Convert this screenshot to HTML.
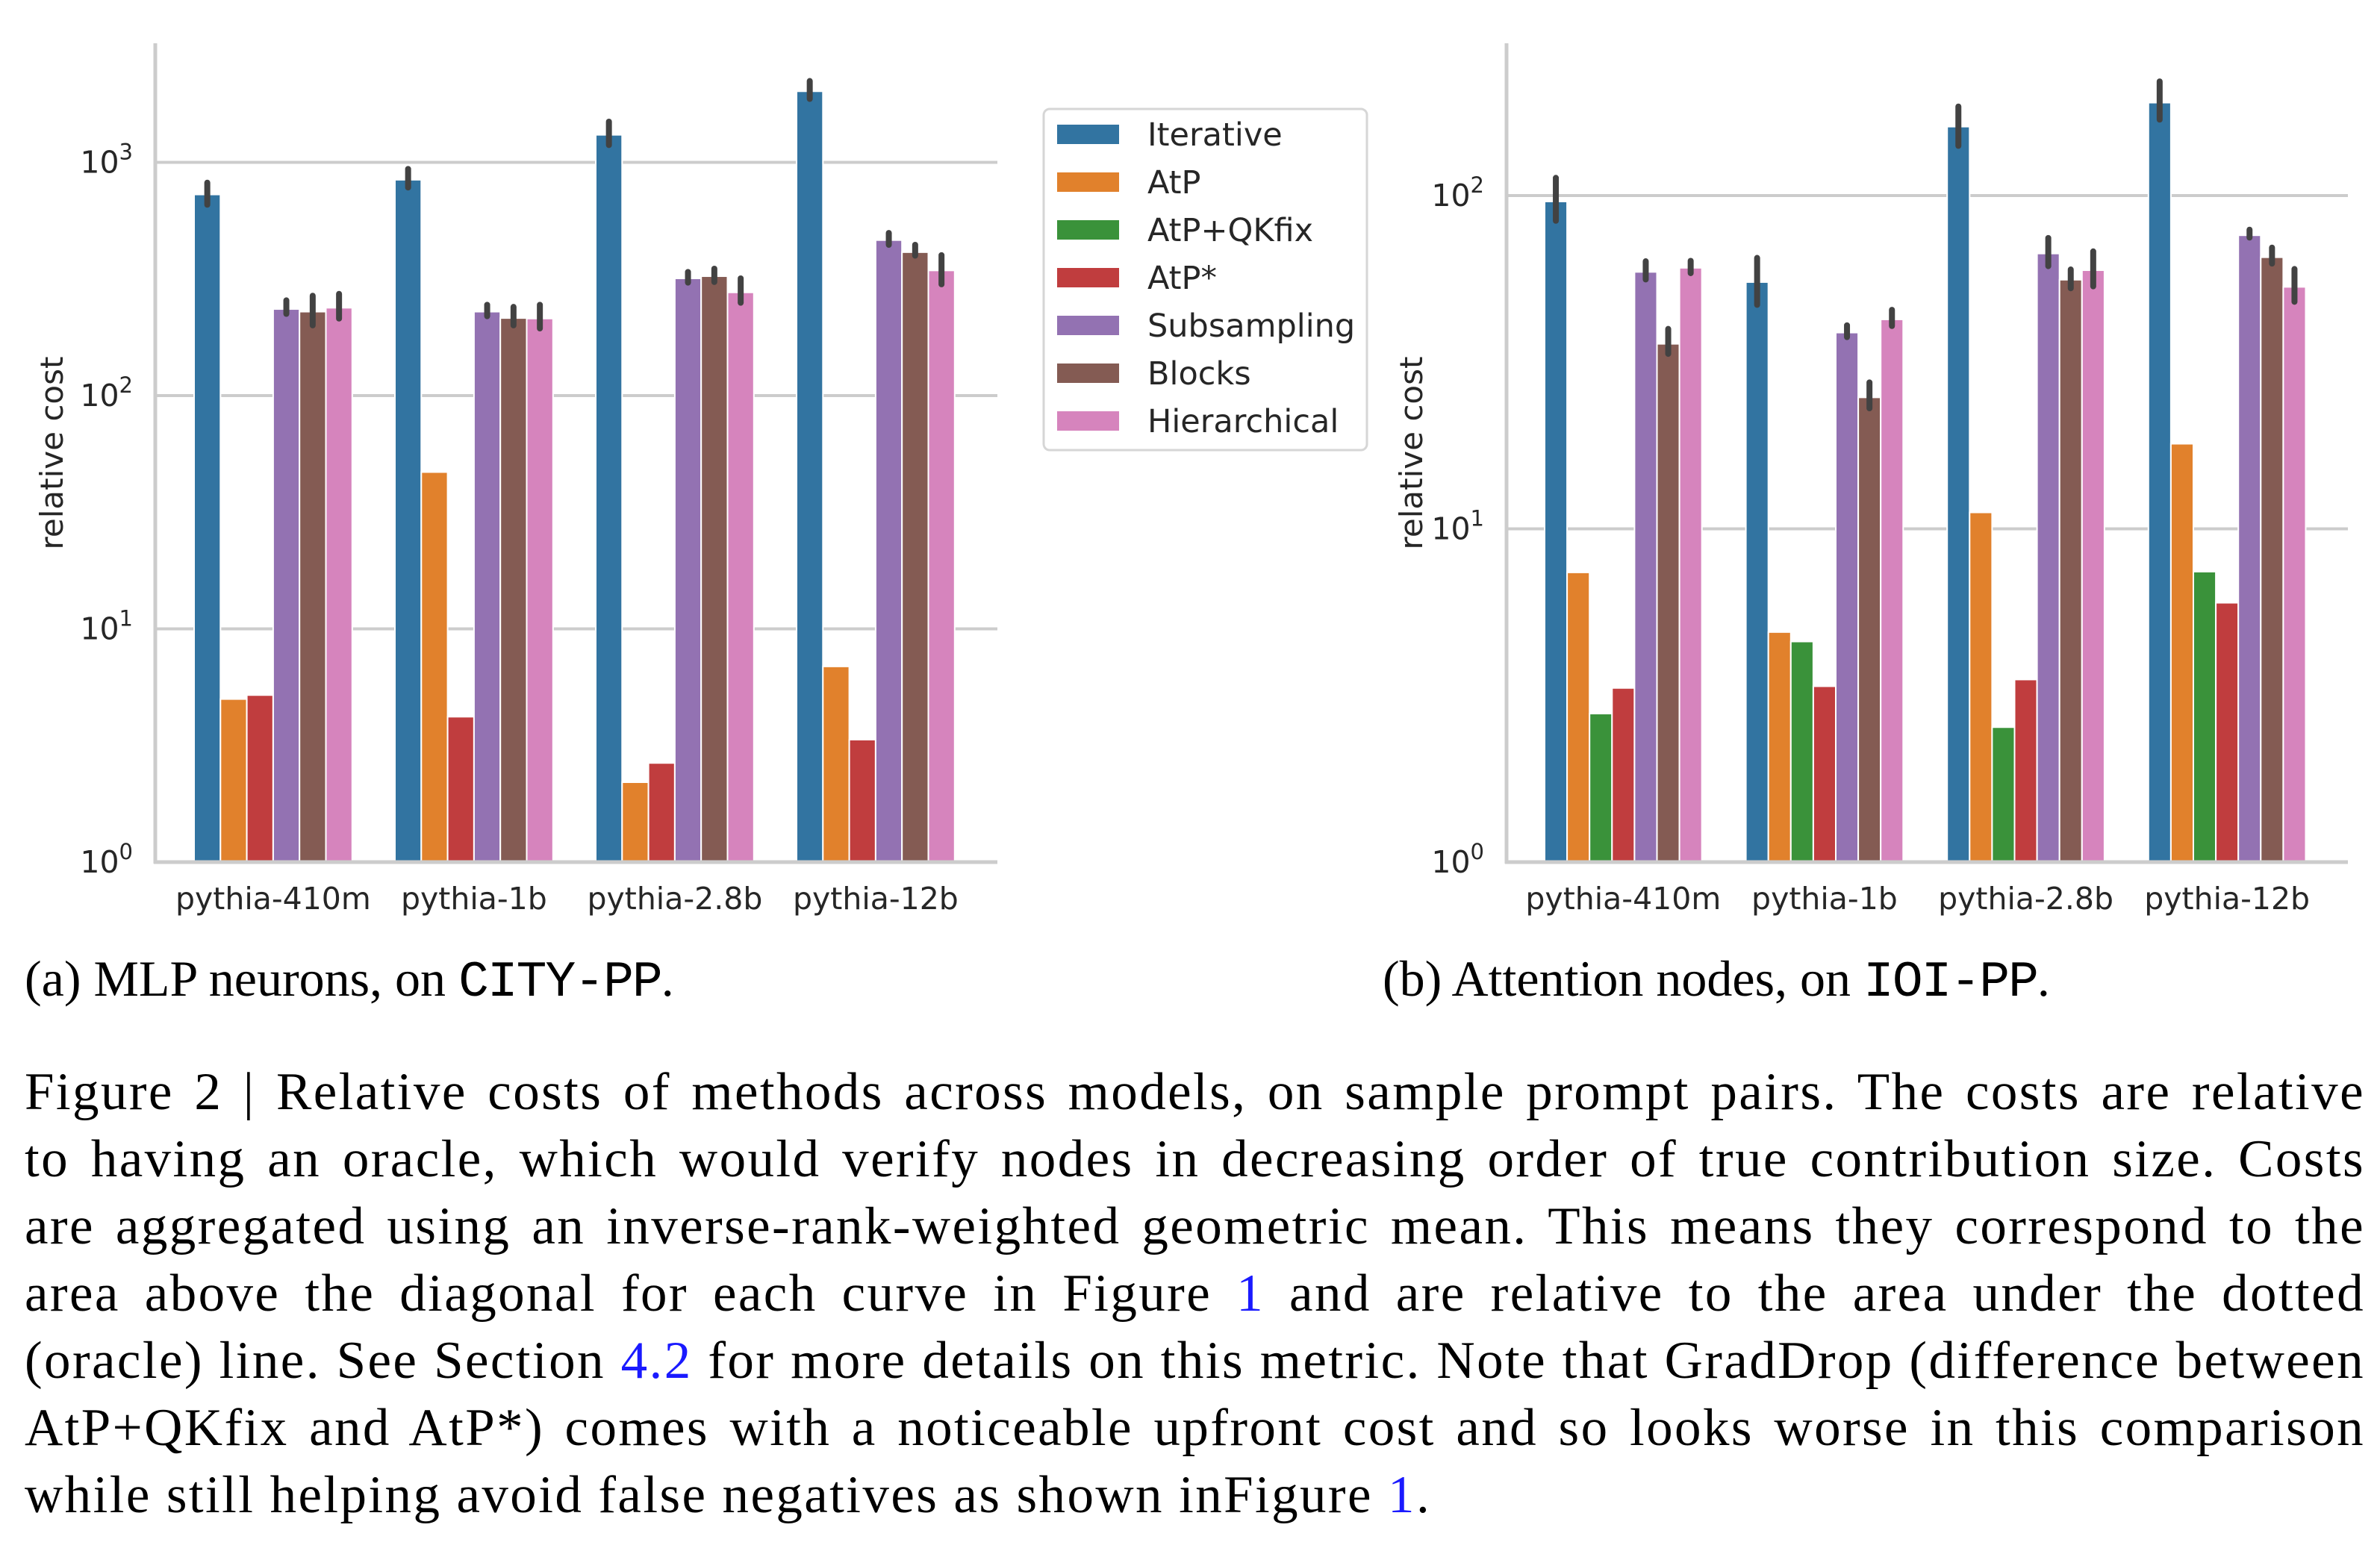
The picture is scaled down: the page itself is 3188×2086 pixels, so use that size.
<!DOCTYPE html>
<html><head><meta charset="utf-8">
<style>
html,body{margin:0;padding:0;background:#fff;}
#root{position:relative;width:3188px;height:2086px;overflow:hidden;background:#fff;}
svg text{font-family:"DejaVu Sans","Liberation Sans",sans-serif;fill:#262626;}
.cap{position:absolute;font-family:"Liberation Serif",serif;color:#000;white-space:nowrap;}
.line{position:absolute;left:33px;width:3135px;font-family:"Liberation Serif",serif;font-size:71px;color:#000;text-align:justify;text-align-last:justify;white-space:nowrap;line-height:90px;height:90px;letter-spacing:2.4px;}
.line.last{text-align-last:left;}
.mono{font-family:"Liberation Mono",monospace;letter-spacing:-2px;}
.lk{color:#1a1aff;}
</style></head><body>
<div id="root">
<svg id="chart" width="3188" height="1260" style="position:absolute;left:0;top:0"></svg>
<div class="cap" style="left:33px;top:1272px;font-size:68px;">(a) MLP neurons, on <span class="mono">CITY-PP</span>.</div>
<div class="cap" style="left:1852px;top:1272px;font-size:68px;">(b) Attention nodes, on <span class="mono">IOI-PP</span>.</div>
<div>
<div class="line" style="top:1418px">Figure 2 | Relative costs of methods across models, on sample prompt pairs. The costs are relative</div>
<div class="line" style="top:1508px">to having an oracle, which would verify nodes in decreasing order of true contribution size. Costs</div>
<div class="line" style="top:1598px">are aggregated using an inverse-rank-weighted geometric mean. This means they correspond to the</div>
<div class="line" style="top:1688px">area above the diagonal for each curve in Figure <span class="lk">1</span> and are relative to the area under the dotted</div>
<div class="line" style="top:1778px">(oracle) line. See Section <span class="lk">4.2</span> for more details on this metric. Note that GradDrop (difference between</div>
<div class="line" style="top:1868px">AtP+QKfix and AtP*) comes with a noticeable upfront cost and so looks worse in this comparison</div>
<div class="line last" style="top:1958px">while still helping avoid false negatives as shown inFigure <span class="lk">1</span>.</div>
</div>
</div>
<script>
const categories = ["pythia-410m","pythia-1b","pythia-2.8b","pythia-12b"];
const methods = ["Iterative","AtP","AtP+QKfix","AtP*","Subsampling","Blocks","Hierarchical"];
const colors = ["#3274a1","#e1812c","#3a923a","#c03d3e","#9372b2","#845b53","#d684bd"];
// Left chart (MLP neurons) - no AtP+QKfix
const mlpIterative = [728, 842, 1312, 2017];
const mlpAtP = [5.0, 47, 2.2, 6.9];
const mlpAtPStar = [5.2, 4.2, 2.66, 3.35];
const mlpSubsampling = [235, 229, 318, 464];
const mlpBlocks = [229, 215, 325, 412];
const mlpHierarchical = [238, 214, 277, 344];
const mlpIterErr = [[658,818],[780,937],[1186,1494],[1870,2232]];
const mlpSubErr = [[224,256],[219,245],[305,339],[443,498]];
const mlpBlkErr = [[200,268],[200,240],[307,350],[398,443]];
const mlpHierErr = [[214,273],[194,245],[250,318],[300,400]];
// Right chart (Attention nodes)
const attIterative = [96, 55, 161, 190];
const attAtP = [7.4, 4.9, 11.2, 18.0];
const attQKfix = [2.79, 4.59, 2.54, 7.44];
const attAtPStar = [3.33, 3.37, 3.53, 6.0];
const attSubsampling = [59, 38.8, 67, 76];
const attBlocks = [35.9, 24.8, 55.9, 65.3];
const attHierarchical = [60.7, 42.5, 59.7, 53.2];
const attIterErr = [[84,113],[47,65],[141,185],[169,220]];
const attSubErr = [[56,63.5],[37.6,40.8],[61.4,74.6],[74.8,79]];
const attBlkErr = [[33.5,39.8],[23,27.5],[52.7,60],[62.5,69.8]];
const attHierErr = [[58.5,63.7],[40.6,45.4],[53.4,68],[48,60.2]];
const yTicksLeft = [0,1,2,3];
const yTicksRight = [0,1,2];

const NS="http://www.w3.org/2000/svg";
const svg=document.getElementById('chart');
function mk(tag,attrs,parent){const e=document.createElementNS(NS,tag);for(const k in attrs)e.setAttribute(k,attrs[k]);(parent||svg).appendChild(e);return e;}

function drawChart(cfg){
  const g=mk('g',{});
  
  
  const y=v=>cfg.bottom-Math.log10(v)*cfg.decade;
  const xGroup=i=>cfg.start+i*cfg.spacing;
  cfg.ticks.forEach(t=>{
    const gl=mk('line',{x1:cfg.axisX,x2:cfg.axisRight,y1:y(Math.pow(10,t)),y2:y(Math.pow(10,t)),stroke:'#cccccc','stroke-width':4},g);
    
    
    const tx=mk('text',{x:cfg.axisX-30,y:y(Math.pow(10,t))+14,'font-size':41,'text-anchor':'end'},g);
    
    
    tx.textContent='10';
    const sp=mk('tspan',{dy:-18,'font-size':29},tx);
    sp.textContent=String(t);
  });
  cfg.series.forEach((s,si)=>{
    s.vals.forEach((v,ci)=>{
      const x0=xGroup(ci)+si*cfg.barW;
      const r=mk('rect',{x:x0,y:y(v),width:cfg.barW,height:cfg.bottom-y(v),fill:colors[s.c],stroke:'#ffffff','stroke-width':2},g);
      
      
      if(s.err){
        const e=s.err[ci];
        const l=mk('line',{x1:x0+cfg.barW/2,x2:x0+cfg.barW/2,y1:y(e[0]),y2:y(e[1]),stroke:'#424242','stroke-width':8,'stroke-linecap':'round'},g);
        
        
      }
    });
  });
  const sl=mk('line',{x1:cfg.axisX,x2:cfg.axisX,y1:cfg.top,y2:cfg.bottom+2,stroke:'#cccccc','stroke-width':5},g);
  
  
  const sb=mk('line',{x1:cfg.axisX-2,x2:cfg.axisRight,y1:cfg.bottom,y2:cfg.bottom,stroke:'#cccccc','stroke-width':5},g);
  
  
  categories.forEach((c,ci)=>{
    const t=mk('text',{x:xGroup(ci)+cfg.series.length*cfg.barW/2,y:1218,'font-size':41,'text-anchor':'middle'},g);
    
    
    t.textContent=c;
  });
  const yt=mk('text',{x:0,y:0,'font-size':42,'text-anchor':'middle',transform:`translate(${cfg.titleX},607) rotate(-90)`},g);
  
  
  yt.textContent='relative cost';
}

drawChart({name:'mlp-chart',axisX:208,axisRight:1336,top:58,bottom:1155,decade:312.5,start:260,spacing:269,barW:35.3,ticks:yTicksLeft,titleX:84,
  series:[{c:0,vals:mlpIterative,err:mlpIterErr},{c:1,vals:mlpAtP},{c:3,vals:mlpAtPStar},{c:4,vals:mlpSubsampling,err:mlpSubErr},{c:5,vals:mlpBlocks,err:mlpBlkErr},{c:6,vals:mlpHierarchical,err:mlpHierErr}]});
drawChart({name:'attention-chart',axisX:2018,axisRight:3145,top:58,bottom:1155,decade:446.5,start:2069,spacing:269.6,barW:30.1,ticks:yTicksRight,titleX:1905,
  series:[{c:0,vals:attIterative,err:attIterErr},{c:1,vals:attAtP},{c:2,vals:attQKfix},{c:3,vals:attAtPStar},{c:4,vals:attSubsampling,err:attSubErr},{c:5,vals:attBlocks,err:attBlkErr},{c:6,vals:attHierarchical,err:attHierErr}]});

const lg=mk('g',{});


mk('rect',{x:1398,y:146,width:433,height:457,rx:8,fill:'#ffffff',stroke:'#d6d6d6','stroke-width':3},lg);
methods.forEach((m,i)=>{
  const cy=180+i*64;
  const ent=mk('g',{},lg);
  
  
  mk('rect',{x:1416,y:cy-13,width:83,height:26,fill:colors[i]},ent);
  const t=mk('text',{x:1537,y:cy+15,'font-size':43},ent);
  t.textContent=m;
});
</script>
</body></html>
